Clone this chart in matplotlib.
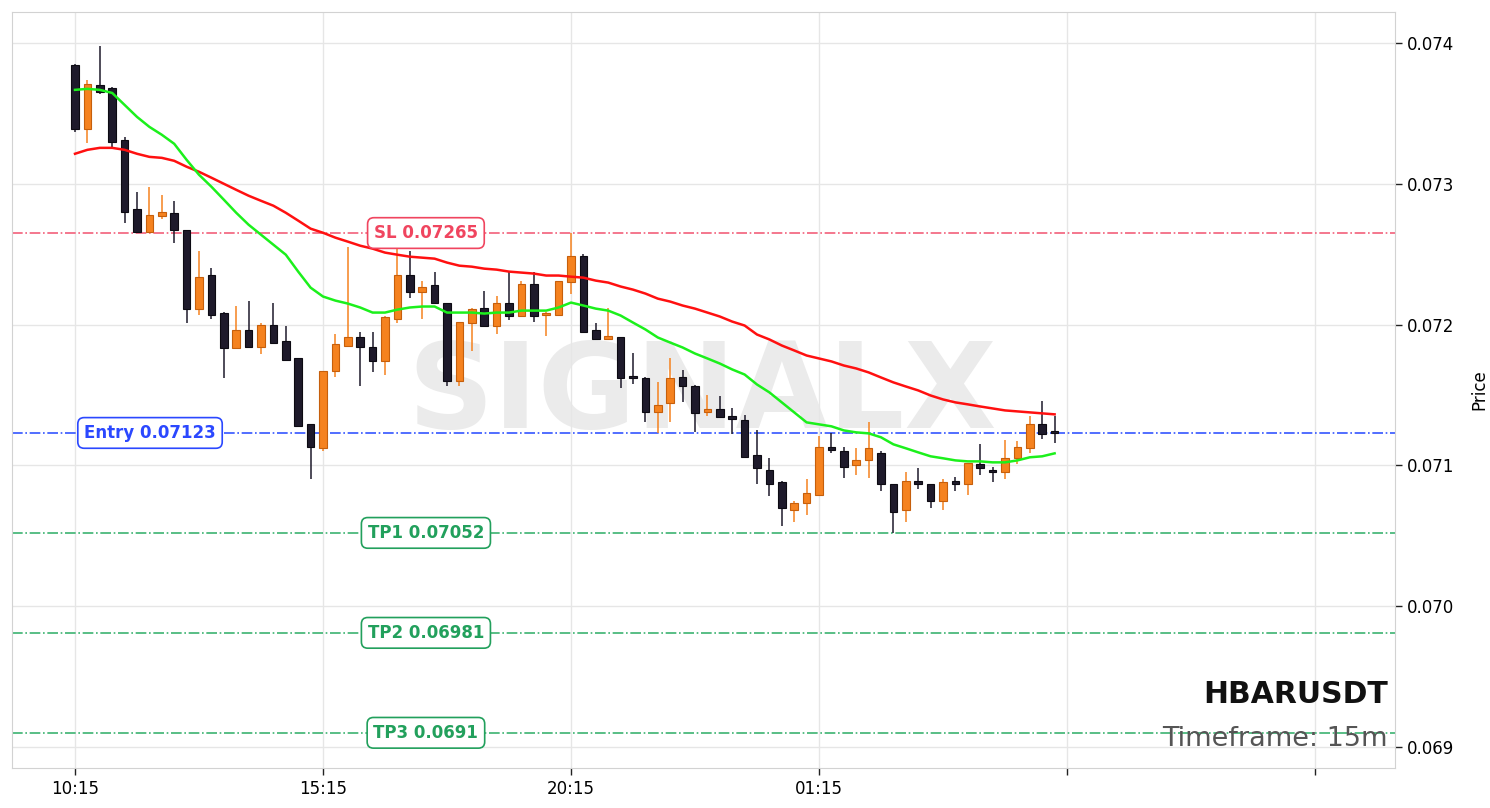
import numpy as np
import matplotlib
matplotlib.use("Agg")
from matplotlib import pyplot as plt

plt.rcParams['font.family'] = ['DejaVu Sans']

# OHLC per 15m candle
opens = [0.07384, 0.07339, 0.07370, 0.07368, 0.07331, 0.07282, 0.07266, 0.07277, 0.07279, 0.07267,
         0.07211, 0.07235, 0.07208, 0.07183, 0.07196, 0.07184, 0.07200, 0.07188, 0.07176, 0.07129,
         0.07112, 0.07167, 0.07185, 0.07191, 0.07184, 0.07174, 0.07204, 0.07235, 0.07223, 0.07228,
         0.07215, 0.07160, 0.07201, 0.07212, 0.07199, 0.07215, 0.07206, 0.07229, 0.07207, 0.07207,
         0.07230, 0.07249, 0.07196, 0.07190, 0.07191, 0.07163, 0.07162, 0.07138, 0.07144, 0.07163,
         0.07156, 0.07138, 0.07140, 0.07135, 0.07132, 0.07107, 0.07097, 0.07088, 0.07068, 0.07073,
         0.07079, 0.07113, 0.07110, 0.07100, 0.07104, 0.07109, 0.07087, 0.07068, 0.07089, 0.07087,
         0.07075, 0.07089, 0.07087, 0.07101, 0.07097, 0.07095, 0.07105, 0.07112, 0.07129, 0.07123]
highs = [0.07385, 0.07374, 0.07398, 0.07369, 0.07333, 0.07294, 0.07298, 0.07292, 0.07288, 0.07267,
         0.07252, 0.07240, 0.07209, 0.07213, 0.07217, 0.07201, 0.07215, 0.07199, 0.07176, 0.07129,
         0.07167, 0.07193, 0.07255, 0.07195, 0.07195, 0.07206, 0.07254, 0.07252, 0.07231, 0.07237,
         0.07215, 0.07202, 0.07212, 0.07224, 0.07220, 0.07238, 0.07231, 0.07237, 0.07209, 0.07231,
         0.07265, 0.07250, 0.07201, 0.07212, 0.07191, 0.07180, 0.07163, 0.07159, 0.07176, 0.07168,
         0.07157, 0.07150, 0.07149, 0.07141, 0.07136, 0.07125, 0.07105, 0.07089, 0.07075, 0.07090,
         0.07121, 0.07123, 0.07113, 0.07112, 0.07131, 0.07110, 0.07087, 0.07095, 0.07098, 0.07087,
         0.07090, 0.07092, 0.07102, 0.07115, 0.07099, 0.07118, 0.07117, 0.07135, 0.07146, 0.07135]
lows = [0.07337, 0.07329, 0.07364, 0.07326, 0.07272, 0.07265, 0.07266, 0.07275, 0.07258, 0.07201,
        0.07207, 0.07204, 0.07162, 0.07183, 0.07184, 0.07179, 0.07187, 0.07175, 0.07127, 0.07090,
        0.07110, 0.07163, 0.07184, 0.07156, 0.07166, 0.07164, 0.07201, 0.07219, 0.07204, 0.07215,
        0.07156, 0.07156, 0.07181, 0.07198, 0.07193, 0.07203, 0.07206, 0.07202, 0.07192, 0.07206,
        0.07222, 0.07194, 0.07190, 0.07189, 0.07155, 0.07158, 0.07131, 0.07123, 0.07131, 0.07145,
        0.07124, 0.07135, 0.07134, 0.07122, 0.07106, 0.07087, 0.07078, 0.07057, 0.07060, 0.07065,
        0.07079, 0.07109, 0.07091, 0.07093, 0.07091, 0.07082, 0.07052, 0.07060, 0.07083, 0.07070,
        0.07068, 0.07082, 0.07079, 0.07093, 0.07088, 0.07090, 0.07101, 0.07109, 0.07119, 0.07116]
closes = [0.07339, 0.07371, 0.07365, 0.07330, 0.07280, 0.07266, 0.07278, 0.07280, 0.07267, 0.07211,
          0.07234, 0.07207, 0.07183, 0.07196, 0.07184, 0.07200, 0.07187, 0.07175, 0.07128, 0.07113,
          0.07167, 0.07186, 0.07191, 0.07184, 0.07174, 0.07205, 0.07235, 0.07223, 0.07227, 0.07215,
          0.07160, 0.07202, 0.07211, 0.07199, 0.07215, 0.07206, 0.07229, 0.07206, 0.07208, 0.07231,
          0.07249, 0.07195, 0.07190, 0.07192, 0.07162, 0.07162, 0.07138, 0.07143, 0.07162, 0.07156,
          0.07137, 0.07140, 0.07134, 0.07133, 0.07106, 0.07098, 0.07087, 0.07070, 0.07073, 0.07080,
          0.07113, 0.07111, 0.07099, 0.07104, 0.07112, 0.07087, 0.07067, 0.07089, 0.07087, 0.07075,
          0.07088, 0.07087, 0.07102, 0.07098, 0.07095, 0.07105, 0.07113, 0.07129, 0.07122, 0.07123]

# moving averages as drawn
ema_slow = [0.073213, 0.073241, 0.073255, 0.073255, 0.073241, 0.073213, 0.073191, 0.073184, 0.073163, 0.073121,
            0.073085, 0.073043, 0.073000, 0.072957, 0.072915, 0.072879, 0.072844, 0.072794, 0.072738, 0.072681,
            0.072652, 0.072617, 0.072589, 0.072560, 0.072539, 0.072511, 0.072496, 0.072482, 0.072475, 0.072468,
            0.072440, 0.072418, 0.072411, 0.072397, 0.072390, 0.072376, 0.072369, 0.072362, 0.072348, 0.072348,
            0.072340, 0.072333, 0.072312, 0.072298, 0.072270, 0.072248, 0.072220, 0.072184, 0.072163, 0.072135,
            0.072113, 0.072085, 0.072057, 0.072021, 0.071993, 0.071929, 0.071894, 0.071851, 0.071816, 0.071780,
            0.071759, 0.071738, 0.071709, 0.071688, 0.071660, 0.071624, 0.071589, 0.071560, 0.071532, 0.071496,
            0.071468, 0.071447, 0.071433, 0.071418, 0.071404, 0.071390, 0.071383, 0.071376, 0.071369, 0.071362]
ema_fast = [0.073667, 0.073674, 0.073667, 0.073645, 0.073560, 0.073475, 0.073404, 0.073348, 0.073284, 0.073170,
            0.073064, 0.072979, 0.072887, 0.072794, 0.072709, 0.072638, 0.072567, 0.072496, 0.072376, 0.072262,
            0.072199, 0.072170, 0.072149, 0.072121, 0.072085, 0.072085, 0.072106, 0.072121, 0.072128, 0.072128,
            0.072085, 0.072085, 0.072085, 0.072078, 0.072085, 0.072085, 0.072099, 0.072099, 0.072099, 0.072121,
            0.072156, 0.072135, 0.072113, 0.072099, 0.072064, 0.072014, 0.071965, 0.071908, 0.071872, 0.071837,
            0.071794, 0.071759, 0.071723, 0.071681, 0.071645, 0.071574, 0.071518, 0.071447, 0.071376, 0.071305,
            0.071291, 0.071277, 0.071248, 0.071234, 0.071227, 0.071199, 0.071149, 0.071121, 0.071092, 0.071064,
            0.071050, 0.071035, 0.071028, 0.071028, 0.071021, 0.071021, 0.071035, 0.071057, 0.071064, 0.071085]

tick_pos = [0, 20, 40, 60, 80, 100]
tick_labels = ["10:15", "15:15", "20:15", "01:15", "", ""]

symbol = "HBARUSDT"
timeframe = "15m"
entry = 0.07123
stop_loss = 0.07265
targets = [0.07052, 0.06981, 0.0691]
target_names = ["TP1 0.07052", "TP2 0.06981", "TP3 0.0691"]

up_col, up_edge = "#f5821f", "#c65f0c"
dn_col, dn_edge = "#1e1a2b", "#0c0a12"
sl_col, entry_col, tp_col, tp_line = "#f0455f", "#2b48ff", "#22a05c", "#3cb371"

o = np.array(opens); h = np.array(highs); l = np.array(lows); c = np.array(closes)
x = np.arange(len(o))
up = c >= o
up[-1] = False

fig = plt.figure(figsize=(14.9, 8.08), dpi=100)
ax = fig.add_axes([12 / 1490, 40 / 808, 1383 / 1490, 756 / 808])

ax.text(0.499, 0.4497, "SIGNALX", transform=ax.transAxes, ha="center", va="baseline",
        fontsize=86, fontweight="bold", color="#ebebeb", zorder=0)

for msk, col, edge in [(up, up_col, up_edge), (~up, dn_col, dn_edge)]:
    ax.vlines(x[msk], l[msk], h[msk], color=col, lw=1.1, zorder=2)
    body = np.maximum(np.abs(c[msk] - o[msk]), 0.000012)
    ax.bar(x[msk], body, bottom=np.minimum(o[msk], c[msk]), width=0.6,
           color=col, edgecolor=edge, linewidth=0.8, zorder=2)

ax.plot(x, ema_slow, color="#ff1010", lw=1.8, zorder=3)
ax.plot(x, ema_fast, color="#1cf01c", lw=1.8, zorder=3)

ax.axhline(stop_loss, color="#f2607a", lw=1.2, ls="-.", zorder=1)
ax.axhline(entry, color="#3355ff", lw=1.2, ls="-.", zorder=1)
for t in targets:
    ax.axhline(t, color=tp_line, lw=1.2, ls="-.", zorder=1)

def label(xpos, y, txt, col):
    ax.text(xpos, y, txt, ha="center", va="center", fontsize=12, fontweight="bold", color=col,
            zorder=5, bbox=dict(boxstyle="round,pad=0.38", fc="white", ec=col, lw=1.2))

label(28.3, stop_loss, "SL 0.07265", sl_col)
label(6.05, entry, "Entry 0.07123", entry_col)
for t, name in zip(targets, target_names):
    label(28.3, t, name, tp_col)

ax.text(0.995, 0.086, symbol, transform=ax.transAxes, ha="right", va="baseline",
        fontsize=21.5, fontweight="bold", color="#111111", zorder=6)
ax.text(0.995, 0.029, "Timeframe: " + timeframe, transform=ax.transAxes, ha="right", va="baseline",
        fontsize=19.5, color="#555555", zorder=6)

ax.set_xlim(-5.08, 106.45)
ax.set_ylim(0.06885, 0.07422)
ax.set_xticks(tick_pos)
ax.set_xticklabels(tick_labels, fontsize=12)
ax.set_yticks([0.069, 0.070, 0.071, 0.072, 0.073, 0.074])
ax.set_yticklabels(["0.069", "0.070", "0.071", "0.072", "0.073", "0.074"], fontsize=12)
ax.yaxis.tick_right()
ax.yaxis.set_label_position("right")
ax.set_ylabel("Price", fontsize=12, labelpad=12)
ax.tick_params(length=5, width=1, color="#222222")
ax.grid(True, color="#e6e6e6", lw=1, zorder=0)
ax.set_axisbelow(True)
for s in ax.spines.values():
    s.set_color("#d2d2d2")

fig.savefig("out.png", dpi=100, facecolor="white")
